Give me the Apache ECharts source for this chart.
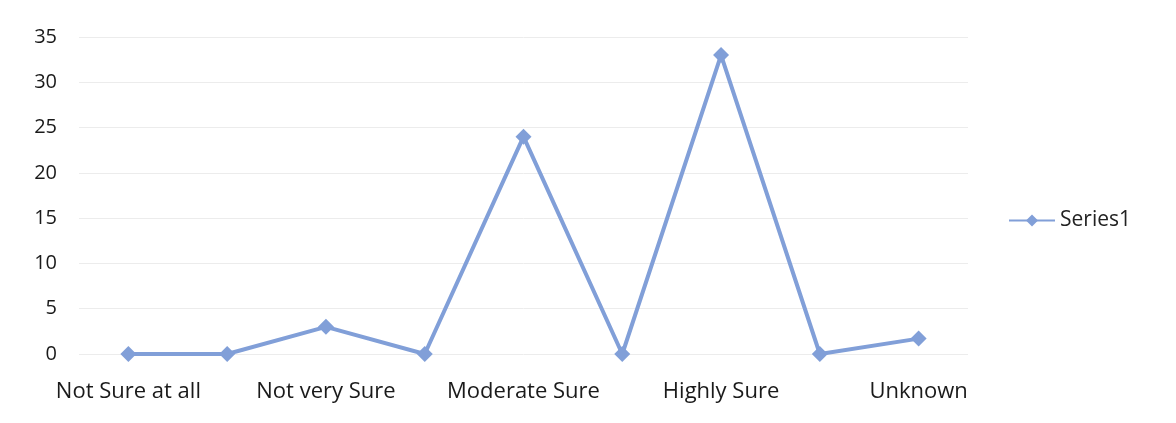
<!DOCTYPE html>
<html>
<head>
<meta charset="utf-8">
<script src="https://cdn.jsdelivr.net/npm/echarts@6/dist/echarts.min.js"></script>
<style>
  html, body { margin: 0; padding: 0; background: #fff; }
  #chart { width: 1176px; height: 423px; }
</style>
</head>
<body>
<div id="chart"></div>
<script>
// 数据
const categories = ['Not Sure at all', '', 'Not very Sure', '', 'Moderate Sure', '', 'Highly Sure', '', 'Unknown'];
const series1 = [0, 0, 3, 0, 24, 0, 33, 0, 1.7];
const yTicks = { min: 0, max: 35, interval: 5 };

const chartDom = document.getElementById('chart');
const myChart = echarts.init(chartDom);

const font = 'Open Sans';

const option = {
  animation: false,
  grid: { left: 79, right: 208, top: 37, bottom: 69 },
  legend: {
    data: ['Series1'],
    orient: 'vertical',
    left: 1003,
    top: 205,
    itemWidth: 46,
    itemHeight: 15,
    itemGap: 6,
    textStyle: { fontFamily: font, fontSize: 21, color: '#222' }
  },
  xAxis: {
    type: 'category',
    data: categories,
    boundaryGap: true,
    axisLine: { show: false },
    axisTick: { show: false },
    axisLabel: {
      interval: 0,
      margin: 27,
      fontFamily: font,
      fontSize: 22,
      color: '#1a1a1a'
    }
  },
  yAxis: {
    type: 'value',
    min: yTicks.min,
    max: yTicks.max,
    interval: yTicks.interval,
    axisLine: { show: false },
    axisTick: { show: false },
    axisLabel: { margin: 22, fontFamily: font, fontSize: 20, color: '#1a1a1a' },
    splitLine: { lineStyle: { color: '#ececec', width: 1 } }
  },
  series: [
    {
      name: 'Series1',
      type: 'line',
      data: series1,
      symbol: 'diamond',
      symbolSize: 16,
      lineStyle: { color: '#819fd8', width: 4 },
      itemStyle: { color: '#819fd8' }
    }
  ]
};

myChart.setOption(option);
</script>
</body>
</html>
